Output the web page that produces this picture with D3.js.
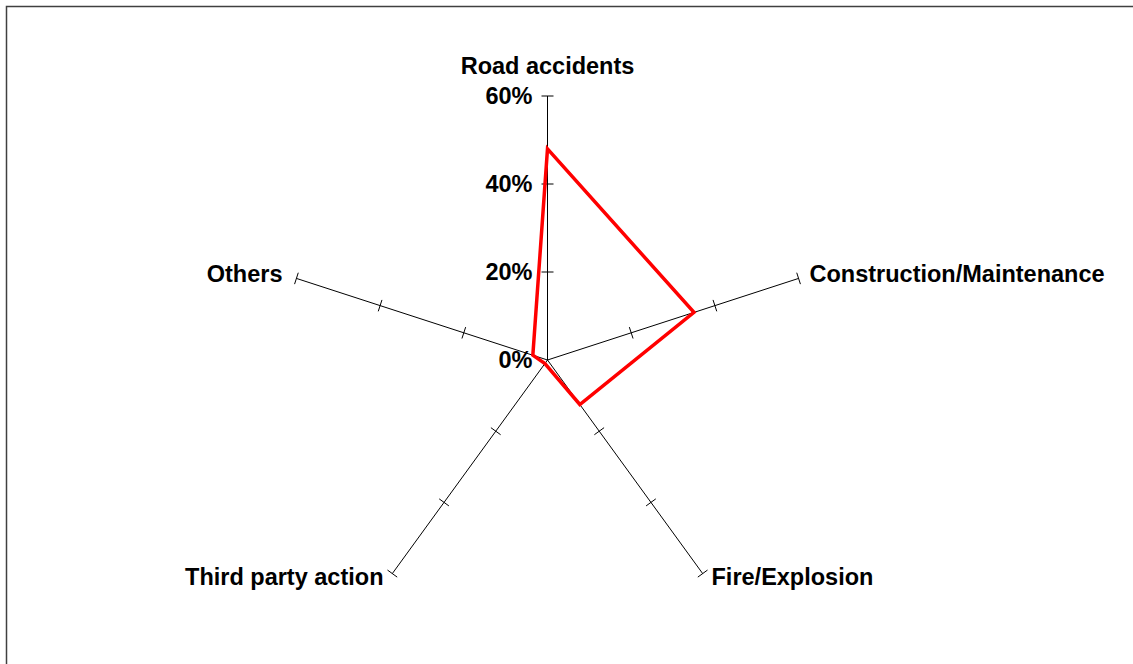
<!DOCTYPE html>
<meta charset="utf-8">
<script src="https://d3js.org/d3.v7.min.js"></script>
<style>
  body { margin: 0; background: #fff; }
  text { font-family: "Liberation Sans", Arial, sans-serif; font-weight: bold; }
</style>
<div id="my_dataviz"></div>
<script>

// data
var categories = ["Road accidents", "Construction/Maintenance", "Fire/Explosion", "Third party action", "Others"];
var values = [48, 35, 12.5, 1, 3.5];
var tickValues = [0, 20, 40, 60];
var tickLabels = ["0%", "20%", "40%", "60%"];

var width = 1133, height = 664;
var cx = 547.5, cy = 360, radius = 264;

var svg = d3.select("#my_dataviz")
  .append("svg")
    .attr("width", width)
    .attr("height", height);

// frame
svg.append("rect")
  .attr("x", 6.5).attr("y", 6.5)
  .attr("width", width + 10).attr("height", height + 10)
  .attr("fill", "none")
  .attr("stroke", "#404040")
  .attr("stroke-width", 1.5);

var g = svg.append("g")
  .attr("transform", "translate(" + cx + "," + cy + ")");

var r = d3.scaleLinear().domain([0, 60]).range([0, radius]);
var angle = d3.scalePoint().domain(categories).range([0, 2 * Math.PI * 4 / 5]);

function px(a, v) { return r(v) * Math.sin(a); }
function py(a, v) { return -r(v) * Math.cos(a); }

// axes
categories.forEach(function(c, i) {
  var a = angle(c);
  g.append("line")
    .attr("x1", 0).attr("y1", 0)
    .attr("x2", px(a, 60)).attr("y2", py(a, 60))
    .attr("stroke", "#000").attr("stroke-width", 1);

  // tick marks, perpendicular to the axis
  tickValues.slice(1).forEach(function(t) {
    var x = px(a, t), y = py(a, t);
    var nx = Math.cos(a) * 6, ny = Math.sin(a) * 6;
    g.append("line")
      .attr("x1", x - nx).attr("y1", y - ny)
      .attr("x2", x + nx).attr("y2", y + ny)
      .attr("stroke", "#000").attr("stroke-width", 1);
  });
});

// tick labels on the first axis
g.selectAll(".tick-label")
  .data(tickValues)
  .enter().append("text")
    .attr("class", "tick-label")
    .attr("x", -15)
    .attr("y", function(d) { return -r(d); })
    .attr("dy", "0.35em")
    .attr("text-anchor", "end")
    .attr("font-size", "23.5px")
    .text(function(d, i) { return tickLabels[i]; });

// category labels
var labelPos = [
  {dx: 0, dy: -294, anchor: "middle"},
  {dx: 262, dy: -86, anchor: "start"},
  {dx: 164, dy: 217, anchor: "start"},
  {dx: -164, dy: 217, anchor: "end"},
  {dx: -265, dy: -86, anchor: "end"}
];
g.selectAll(".cat-label")
  .data(categories)
  .enter().append("text")
    .attr("class", "cat-label")
    .attr("x", function(d, i) { return labelPos[i].dx; })
    .attr("y", function(d, i) { return labelPos[i].dy; })
    .attr("dy", "0.35em")
    .attr("text-anchor", function(d, i) { return labelPos[i].anchor; })
    .attr("font-size", "23.5px")
    .text(function(d) { return d; });

// data polygon
var line = d3.lineRadial()
  .angle(function(d, i) { return angle(categories[i]); })
  .radius(function(d) { return r(d); })
  .curve(d3.curveLinearClosed);

g.append("path")
  .datum(values)
  .attr("fill", "none")
  .attr("stroke", "#ff0000")
  .attr("stroke-width", 3.5)
  .attr("stroke-linejoin", "miter")
  .attr("d", line);

</script>
